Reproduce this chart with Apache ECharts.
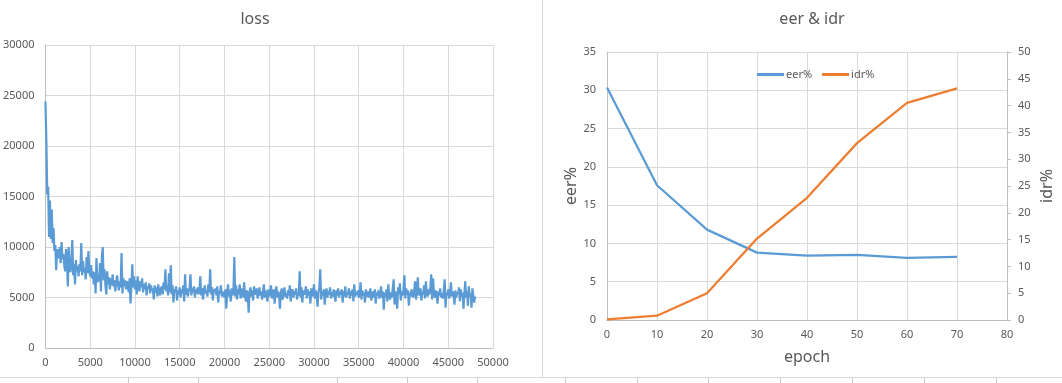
<!DOCTYPE html>
<html>
<head>
<meta charset="utf-8">
<script src="https://cdn.jsdelivr.net/npm/echarts@6/dist/echarts.min.js"></script>
<style>
html,body{margin:0;padding:0;background:#fff;}
#c{width:1062px;height:383px;}
</style>
</head>
<body>
<div id="c"></div>
<script>
// ---- loss chart data (iteration step 100) ----
const lossStep = 100;
const lossValues = [
24400,20500,15200,16000,11000,14600,10800,13700,10400,11900,
9600,10200,7700,9800,9100,8900,10000,8400,10500,8800,
9300,8200,7600,9800,8600,6100,10000,8000,7500,8600,
10700,7200,8300,6300,8700,7600,8100,7100,8300,7600,
10400,7200,8600,7500,7900,6800,9000,7400,9600,7700,
7100,8200,6900,7600,6300,7500,5400,8900,6500,7300,
6600,8400,5600,8900,10000,6700,7800,6200,5300,7600,
6300,7000,5800,6900,6200,7300,6100,6700,5600,6500,
7200,6400,5700,6600,6000,9400,5400,6900,6100,6700,
5800,6600,6200,5500,6900,4400,6100,8300,6000,7100,
5800,6700,5300,7100,6200,5600,6600,6000,6900,5500,
6300,5800,6500,5200,6100,5900,6400,5400,6200,5700,
5900,4800,6200,5500,6000,5100,6300,5600,5200,5900,
6100,5300,6500,5800,7800,5600,6200,5200,7400,5500,
8200,5300,6200,4500,5800,5600,6100,4700,5700,5300,
6000,5000,5800,5400,6200,4600,7300,5300,5900,5100,
5600,6000,7300,5200,5900,5500,6100,5000,5800,5400,
6000,5300,5700,7100,5200,5900,4800,5600,6200,5400,
5700,5100,6300,5500,7800,5300,6000,4700,5800,5500,
5900,5200,6100,4500,5700,5400,6200,5100,5600,5300,
5000,5800,3900,5500,6300,5100,5700,4600,5900,5200,
5600,9000,5100,6200,4800,5800,5300,6300,4900,5500,
5900,5000,6500,5200,4600,5700,5300,3500,5600,6000,
5100,5700,4700,6100,5300,5500,5900,4900,5400,6000,
5200,5600,4800,5500,6300,5000,5700,5300,4600,5800,
5100,5600,6200,4900,5400,5800,4400,5500,6100,5000,
5600,5200,3900,5500,5900,4800,5300,6000,5100,5400,
4900,5700,5200,6200,4600,5500,5800,5000,5600,5300,
5900,4800,5500,5200,7600,5000,6000,4500,5700,5300,
5500,6100,4900,5800,5200,5600,4400,5900,5100,5400,
6300,4900,5700,5200,4100,5500,6000,7800,4800,5600,
5200,5800,4300,5500,5900,5000,5600,5300,6000,4900,
5500,5100,5800,5300,4600,5700,5200,5900,5000,5600,
5300,5800,4500,5600,5100,6100,5000,5500,5300,5900,
4900,5600,5200,5800,4600,6300,5100,5500,5300,5700,
5000,5400,6500,4800,5700,5200,5500,4500,5800,5100,
5600,5000,5400,5900,4700,5300,5600,5000,5800,4400,
5500,5200,5700,4900,5400,6100,5000,5600,3800,5500,
5100,5800,4600,6300,5200,4800,5500,5000,5900,6800,
4300,5600,5100,3900,6000,5300,6400,4700,5600,5200,
5800,7200,4900,5900,5300,5700,4200,5500,5100,5800,
5400,5000,5700,6600,4800,5600,7000,5200,5500,5900,
4700,5600,5300,6200,4900,6600,5400,5100,5800,5300,
6000,7300,4800,6900,5500,5000,5700,5300,4400,5600,
5200,5900,5000,5400,4900,5700,6800,4000,5500,5200,
5800,4900,5400,6500,5100,5600,5200,4300,5700,5000,
5500,5300,6000,4600,5800,5100,5500,3900,5300,6600,
5000,5600,4200,6100,5100,5400,4000,5900,5200,4500,
5100
];

// ---- eer & idr chart data ----
const epochs = [0, 10, 20, 30, 40, 50, 60, 70];
const eer = [30.35, 17.6, 11.8, 8.8, 8.4, 8.5, 8.1, 8.25];
const idr = [0.12, 0.8, 5.0, 15.2, 22.8, 33.0, 40.5, 43.2];

const titles = ['loss', 'eer & idr'];
const seriesNames = ['eer%', 'idr%'];

const TXT = '#595959';
const GRID = '#D9D9D9';
const AXL = '#BFBFBF';
const FONT = '"Noto Sans", "Open Sans", sans-serif';
const plain = v => String(v);
const lblStyle = {color: TXT, fontSize: 11, fontFamily: FONT, formatter: plain};

const lossData = lossValues.map((v, i) => [i * lossStep, v]);

const chart = echarts.init(document.getElementById('c'), null, {renderer: 'canvas'});

const sheetTicks = [128, 198, 337, 407, 477, 565, 637, 708, 780, 852, 924, 996];
const graphics = [
  {type: 'line', shape: {x1: 542.5, y1: 0, x2: 542.5, y2: 378}, style: {stroke: '#D9D9D9', lineWidth: 1}, silent: true},
  {type: 'line', shape: {x1: 0, y1: 377.5, x2: 1062, y2: 377.5}, style: {stroke: '#D9D9D9', lineWidth: 1}, silent: true}
].concat(sheetTicks.map(x => ({
  type: 'line', shape: {x1: x + 0.5, y1: 378, x2: x + 0.5, y2: 383}, style: {stroke: '#C8C8C8', lineWidth: 1}, silent: true
})));

chart.setOption({
  animation: false,
  backgroundColor: '#fff',
  textStyle: {fontFamily: FONT},
  title: [
    {text: titles[0], left: 250, top: 6, textAlign: 'center',
     textStyle: {color: TXT, fontSize: 16, fontWeight: 'normal', fontFamily: FONT}},
    {text: titles[1], left: 807, top: 6, textAlign: 'center',
     textStyle: {color: TXT, fontSize: 16, fontWeight: 'normal', fontFamily: FONT}}
  ],
  legend: {
    data: seriesNames, left: 752, top: 64, icon: 'rect', itemWidth: 27, itemHeight: 3, itemGap: 10,
    textStyle: {color: TXT, fontSize: 11, fontFamily: FONT, padding: [0, 0, 0, -3]}
  },
  grid: [
    {left: 44, top: 45, width: 449, height: 303, containLabel: false},
    {left: 607, top: 52, width: 400, height: 268, containLabel: false}
  ],
  xAxis: [
    {type: 'value', gridIndex: 0, min: 0, max: 50000, interval: 5000,
     axisLine: {show: true, lineStyle: {color: AXL}}, axisTick: {show: false},
     splitLine: {show: true, lineStyle: {color: GRID}},
     axisLabel: Object.assign({margin: 9}, lblStyle)},
    {type: 'value', gridIndex: 1, min: 0, max: 80, interval: 10,
     name: 'epoch', nameLocation: 'middle', nameGap: 29,
     nameTextStyle: {color: TXT, fontSize: 16, fontFamily: FONT},
     axisLine: {show: true, lineStyle: {color: AXL}}, axisTick: {show: false},
     splitLine: {show: true, lineStyle: {color: GRID}},
     axisLabel: Object.assign({margin: 9}, lblStyle)}
  ],
  yAxis: [
    {type: 'value', gridIndex: 0, min: 0, max: 30000, interval: 5000,
     axisLine: {show: true, lineStyle: {color: AXL}}, axisTick: {show: false},
     splitLine: {show: true, lineStyle: {color: GRID}},
     axisLabel: Object.assign({margin: 11}, lblStyle)},
    {type: 'value', gridIndex: 1, min: 0, max: 35, interval: 5, position: 'left',
     name: 'eer%', nameLocation: 'middle', nameGap: 28, nameRotate: 90,
     nameTextStyle: {color: TXT, fontSize: 16, fontFamily: FONT},
     axisLine: {show: true, lineStyle: {color: AXL}}, axisTick: {show: false},
     splitLine: {show: true, lineStyle: {color: GRID}},
     axisLabel: Object.assign({margin: 11}, lblStyle)},
    {type: 'value', gridIndex: 1, min: 0, max: 50, interval: 5, position: 'right',
     name: 'idr%', nameLocation: 'middle', nameGap: 32, nameRotate: 90,
     nameTextStyle: {color: TXT, fontSize: 16, fontFamily: FONT},
     axisLine: {show: true, lineStyle: {color: AXL}},
     axisTick: {show: true, length: 4, inside: false, lineStyle: {color: AXL}},
     splitLine: {show: false},
     axisLabel: Object.assign({margin: 11}, lblStyle)}
  ],
  series: [
    {type: 'line', name: 'loss', xAxisIndex: 0, yAxisIndex: 0, data: lossData,
     showSymbol: false, symbol: 'none', lineStyle: {color: '#5B9BD5', width: 2.2}, itemStyle: {color: '#5B9BD5'}},
    {type: 'line', name: seriesNames[0], xAxisIndex: 1, yAxisIndex: 1,
     data: epochs.map((e, i) => [e, eer[i]]),
     showSymbol: false, symbol: 'none', lineStyle: {color: '#5B9BD5', width: 2.25}, itemStyle: {color: '#5B9BD5'}},
    {type: 'line', name: seriesNames[1], xAxisIndex: 1, yAxisIndex: 2,
     data: epochs.map((e, i) => [e, idr[i]]),
     showSymbol: false, symbol: 'none', lineStyle: {color: '#ED7D31', width: 2.25}, itemStyle: {color: '#ED7D31'}}
  ],
  graphic: graphics
});
</script>
</body>
</html>
